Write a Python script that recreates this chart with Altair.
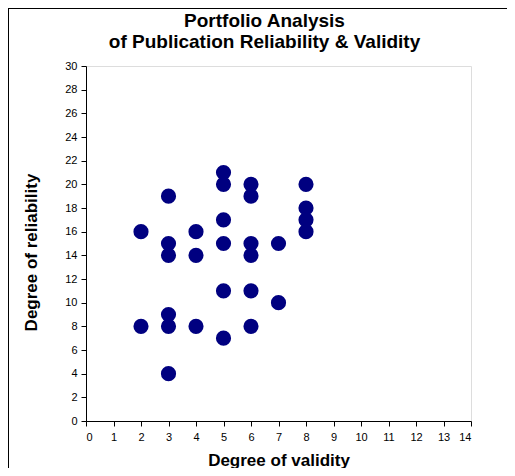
import altair as alt
import pandas as pd

validity = [2, 2, 3, 3, 3, 3, 3, 3, 4, 4, 4, 5, 5, 5, 5, 5, 5, 6, 6, 6, 6, 6, 6, 7, 7, 8, 8, 8, 8]
reliability = [16, 8, 19, 15, 14, 9, 8, 4, 16, 14, 8, 21, 20, 17, 15, 11, 7, 20, 19, 15, 14, 11, 8, 15, 10, 20, 18, 17, 16]
x_ticks = list(range(0, 15))
y_ticks = list(range(0, 31, 2))

df = pd.DataFrame({"validity": validity, "reliability": reliability})

FONT = "Liberation Sans"

points = alt.Chart(df).mark_circle(size=230, color="#000080", opacity=1).encode(
    x=alt.X("validity:Q",
            scale=alt.Scale(domain=[0, 14], nice=False, zero=False),
            axis=alt.Axis(values=x_ticks, title="Degree of validity", grid=False,
                          tickSize=5, labelPadding=5, titlePadding=10,
                          labelFontSize=11, titleFontSize=17, titleFontWeight="bold",
                          labelColor="#000", titleColor="#000", domainColor="#000",
                          tickColor="#000", labelFont=FONT, titleFont=FONT)),
    y=alt.Y("reliability:Q",
            scale=alt.Scale(domain=[0, 30], nice=False, zero=False),
            axis=alt.Axis(values=y_ticks, title="Degree of reliability", grid=False,
                          tickSize=5, labelPadding=4, titlePadding=24, titleY=186,
                          labelFontSize=11, titleFontSize=17, titleFontWeight="bold",
                          labelColor="#000", titleColor="#000", domainColor="#000",
                          tickColor="#000", labelFont=FONT, titleFont=FONT)),
)

frame_left = alt.Chart(df).mark_rule(color="#000", strokeWidth=1).encode(
    x=alt.value(-77.5), y=alt.value(-57.5), y2=alt.value(420)
)
frame_top = alt.Chart(df).mark_rule(color="#000", strokeWidth=1).encode(
    x=alt.value(-77.5), x2=alt.value(440), y=alt.value(-57.5)
)

chart = alt.layer(frame_left, frame_top, points).properties(
    width=385,
    height=355,
    autosize=alt.AutoSizeParams(type="none"),
    padding={"left": 78, "top": 58, "right": 36, "bottom": 47},
    title=alt.TitleParams(
        text=["Portfolio Analysis", "of Publication Reliability & Validity"],
        fontSize=19, fontWeight="bold", font=FONT, color="#000",
        anchor="middle", dx=-14, dy=43.5, offset=0, lineHeight=21,
    ),
).configure_view(stroke="#000", strokeWidth=1).configure(background="white")

chart.save("out.html", embed_options={"renderer": "svg", "actions": False})
